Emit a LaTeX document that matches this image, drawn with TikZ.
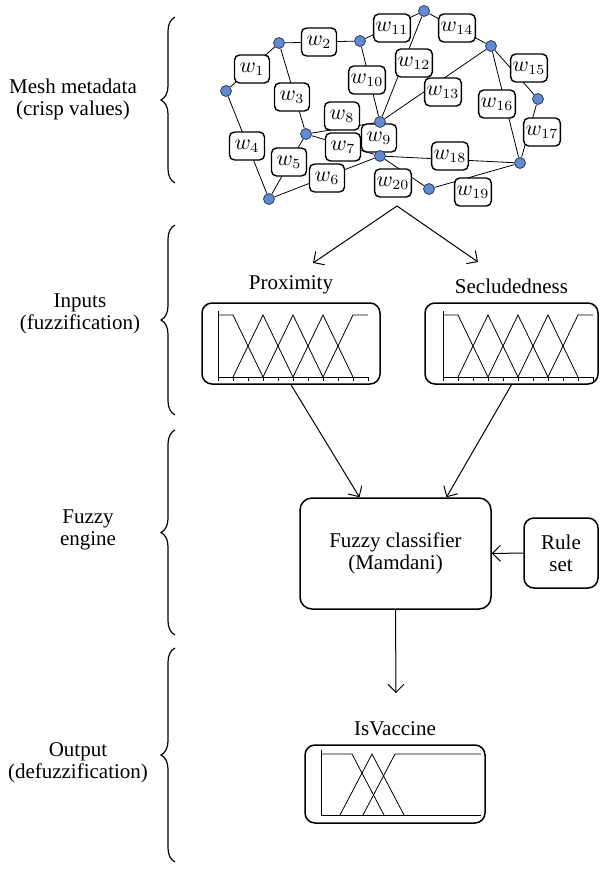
\documentclass[tikz,border=0pt]{standalone}
\usepackage{fontspec}
\setmainfont{Liberation Serif}
\usetikzlibrary{arrows.meta, positioning, calc, decorations.pathreplacing}
\definecolor{meshblue}{RGB}{98, 138, 206}
\definecolor{meshrim}{RGB}{40, 60, 100}
\pgfdeclarelayer{front}
\pgfsetlayers{main,front}
\tikzset{
  dot/.style={circle, fill=meshblue, draw=meshrim, line width=0.4pt, minimum size=5.5pt, inner sep=0pt},
  wbox/.style={draw, fill=white, rounded corners=2.5pt, minimum width=17.5pt, minimum height=14pt, inner sep=1pt, line width=0.7pt},
  panel/.style={draw, rounded corners=5pt, line width=0.75pt, inner sep=0pt},
  stage/.style={align=center},
  flow/.style={-{Straight Barb[length=4pt,width=8pt]}, line width=0.5pt},
  bracket/.style={decorate, decoration={brace, amplitude=7pt}, line width=0.6pt},
  % five membership functions, origin at the foot of the axis
  fivemf/.pic={
    \draw (0,0) -- (0,-66);
    \draw (0,0) -- (150,0);
    \foreach \t in {0,...,10} \draw (15*\t,0) -- (15*\t,4);
    \draw (0,-62) -- (15,-62) -- (45,0);
    \draw (15,0) -- (45,-62) -- (75,0);
    \draw (45,0) -- (75,-62) -- (105,0);
    \draw (75,0) -- (105,-62) -- (135,0);
    \draw (105,0) -- (135,-62) -- (150,-62);
  },
  % three membership functions of the output
  threemf/.pic={
    \draw (0,0) -- (0,-65);
    \draw (0,0) -- (160,0);
    \draw (0,-61) -- (31,-61) -- (63,0);
    \draw (19,0) -- (51,-61) -- (83,0);
    \draw (42,0) -- (74,-61) -- (160,-61);
  }
}

\begin{document}
\begin{tikzpicture}[x=0.5pt, y=-0.5pt, font=\fontsize{10.5}{11}\selectfont, line width=0.6pt]
  \useasboundingbox (0,0) rectangle (600,869);

  % Stages on the left
  \node[stage] (meshlbl) at (73,99) {Mesh metadata\\(crisp values)};
  \node[stage] (inlbl) at (80,314) {Inputs\\(fuzzification)};
  \node[stage] (englbl) at (88,530) {Fuzzy\\engine};
  \node[stage] (outlbl) at (78,763) {Output\\(defuzzification)};
  \draw[bracket] (175,183) -- (175,17);
  \draw[bracket] (175,415) -- (175,225);
  \draw[bracket] (175,635) -- (175,430);
  \draw[bracket] (175,862) -- (175,648);

  % Mesh vertices
  \begin{pgfonlayer}{front}
    \foreach \n/\x/\y in {a/226/91, b/279/43, c/360/41, d/424/11, e/491/46, f/538/99,
                         g/520/163, h/429/189, i/380/156, j/380/122, k/306/134, l/269/199}
      \node[dot] (\n) at (\x,\y) {};
  \end{pgfonlayer}

  % Mesh edges
  \foreach \u/\v in {a/b, b/c, b/k, a/l, k/l, l/i, k/i, k/j, j/i, c/j,
                     c/d, d/j, j/e, d/e, e/f, e/g, f/g, i/g, h/g, i/h}
    \draw (\u) -- (\v);

  % Edge weights
  \foreach \n/\x/\y in {1/252/69, 2/319/42, 3/292/97, 4/247/146, 5/289/162,
                       6/327/178, 7/343/147, 8/342/116, 9/379/138, 10/367/80,
                       11/392/28, 12/414/63, 13/443/92, 14/457/28, 15/529/68,
                       16/497/104, 17/542/132, 18/450/156, 19/473/192, 20/393/183}
    \node[wbox] (w\n) at (\x,\y) {$w_{\n}$};

  % Crisp values go to both inputs
  \coordinate (split) at (397,206);
  \coordinate (proxin) at (313,263);
  \coordinate (seclin) at (478,262);
  \draw[flow] (split) -- (proxin);
  \draw[flow] (split) -- (seclin);

  % Inputs
  \node[panel, minimum width=89pt, minimum height=40.5pt] (prox) at (291,343.5) {};
  \pic at (218,377) {fivemf};
  \node[above=0.5pt of prox] (proxtitle) {Proximity};

  \node[panel, minimum width=86.5pt, minimum height=40.5pt] (secl) at (511.5,343.5) {};
  \pic at (443,377) {fivemf};
  \node[above=0.5pt of secl] (secltitle) {Secludedness};

  % Fuzzy engine
  \node[panel, rounded corners=6pt, minimum width=95.5pt, minimum height=55.5pt, align=center] (fuzzy) at (395.5,553.5) {Fuzzy classifier\\(Mamdani)};
  \node[panel, minimum width=37pt, minimum height=35pt, align=center] (rules) at (561,553) {Rule\\set};
  \draw[flow] (prox.south) -- ($(fuzzy.north)+(-36,0)$);
  \draw[flow] (secl.south) -- ($(fuzzy.north)+(51,0)$);
  \draw[flow] (rules.west) -- (fuzzy.east);

  % Output
  \coordinate (outin) at (396,693);
  \draw[flow] (fuzzy.south) -- (outin);
  \node[panel, minimum width=90pt, minimum height=39pt] (vacc) at (395,784) {};
  \pic at (321,815) {threemf};
  \node[above=0.5pt of vacc] (vacctitle) {IsVaccine};
\end{tikzpicture}
\end{document}
